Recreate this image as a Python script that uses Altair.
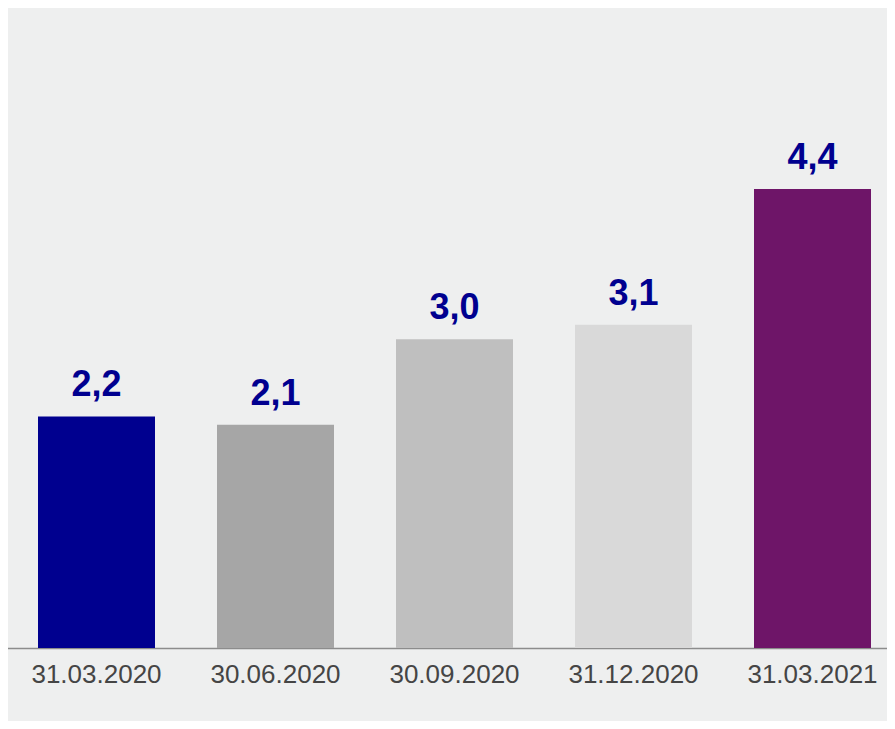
import altair as alt
import pandas as pd

dates = ["31.03.2020", "30.06.2020", "30.09.2020", "31.12.2020", "31.03.2021"]
values = [2.22, 2.14, 2.96, 3.10, 4.40]
labels = ["2,2", "2,1", "3,0", "3,1", "4,4"]
colors = ["#00008F", "#A6A6A6", "#BFBFBF", "#D9D9D9", "#6E1568"]

df = pd.DataFrame({"date": dates, "value": values, "label": labels})

x = alt.X("date:N", sort=dates,
          scale=alt.Scale(range=[-1, 894], paddingInner=0.346, paddingOuter=0.173),
          axis=alt.Axis(title=None, labelAngle=0, ticks=False, labelFontSize=26,
                        labelFont="Liberation Sans", labelColor="#454545",
                        labelPadding=13, domainColor="#8C8C8C", domainWidth=1.5))
y = alt.Y("value:Q", scale=alt.Scale(domain=[0, 6.136], nice=False, zero=True), axis=None)

bars = alt.Chart(df).mark_bar(size=117).encode(
    x=x, y=y,
    color=alt.Color("date:N", sort=dates, scale=alt.Scale(domain=dates, range=colors), legend=None),
)
text = alt.Chart(df).mark_text(
    baseline="alphabetic", dy=-20, fontSize=36, fontWeight="bold",
    font="Liberation Sans", color="#00008F"
).encode(x=x, y=y, text="label:N")

chart = (bars + text).properties(
    width=879, height=640, background="#EEEFEF",
    autosize=alt.AutoSizeParams(type="none"),
    padding={"left": 0, "top": 0, "right": 0, "bottom": 73}
).configure_view(stroke=None, fill="#EEEFEF")

chart.save("out.html", embed_options={"renderer": "svg", "actions": False})
